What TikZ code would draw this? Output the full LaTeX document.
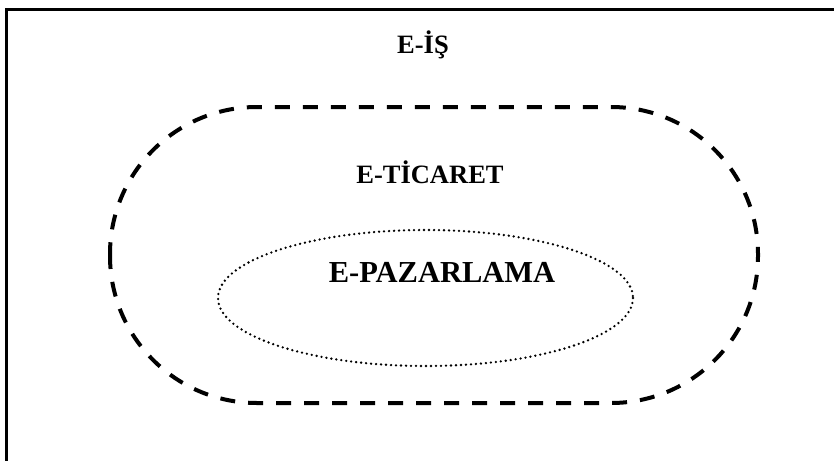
\documentclass[tikz,border=0pt]{standalone}
\usepackage{fontspec}
\setmainfont{Liberation Serif}
\tikzset{
    %Define style for the outer frame
    frame/.style={
           draw=black,
           line width=3.5pt},
    %Define style for the dashed ring
    ring/.style={
           draw=black,
           line width=4pt,
           dash pattern=on 15pt off 13pt,
           rounded corners=147pt},
    %Define style for the dotted ring
    inner/.style={
           draw=black,
           line width=2.6pt,
           line cap=round,
           dash pattern=on 0pt off 5pt},
    % Define label styles
    label/.style={
           anchor=base,
           inner sep=0pt,
           font=\bfseries\fontsize{26.5}{30}\selectfont},
    biglabel/.style={
           label,
           font=\bfseries\fontsize{30.5}{34}\selectfont}
}
\begin{document}
\begin{tikzpicture}[x=1pt, y=-1pt]
    \useasboundingbox (0,0) rectangle (834,460);
    \clip (0,0) rectangle (834,460);
 %shapes
    \draw[frame] (6.5,9.5) rectangle (850,480);
    \draw[ring] (110,107) rectangle (758,403);
    \draw[inner] (425.5,298) ellipse [x radius=207.5, y radius=68];
 %labels
    \node[label] (eis) at (423,53) {E-İŞ};
    \node[label] (eticaret) at (430,183) {E-TİCARET};
    \node[biglabel] (epazarlama) at (442,282) {E-PAZARLAMA};
\end{tikzpicture}
\end{document}
